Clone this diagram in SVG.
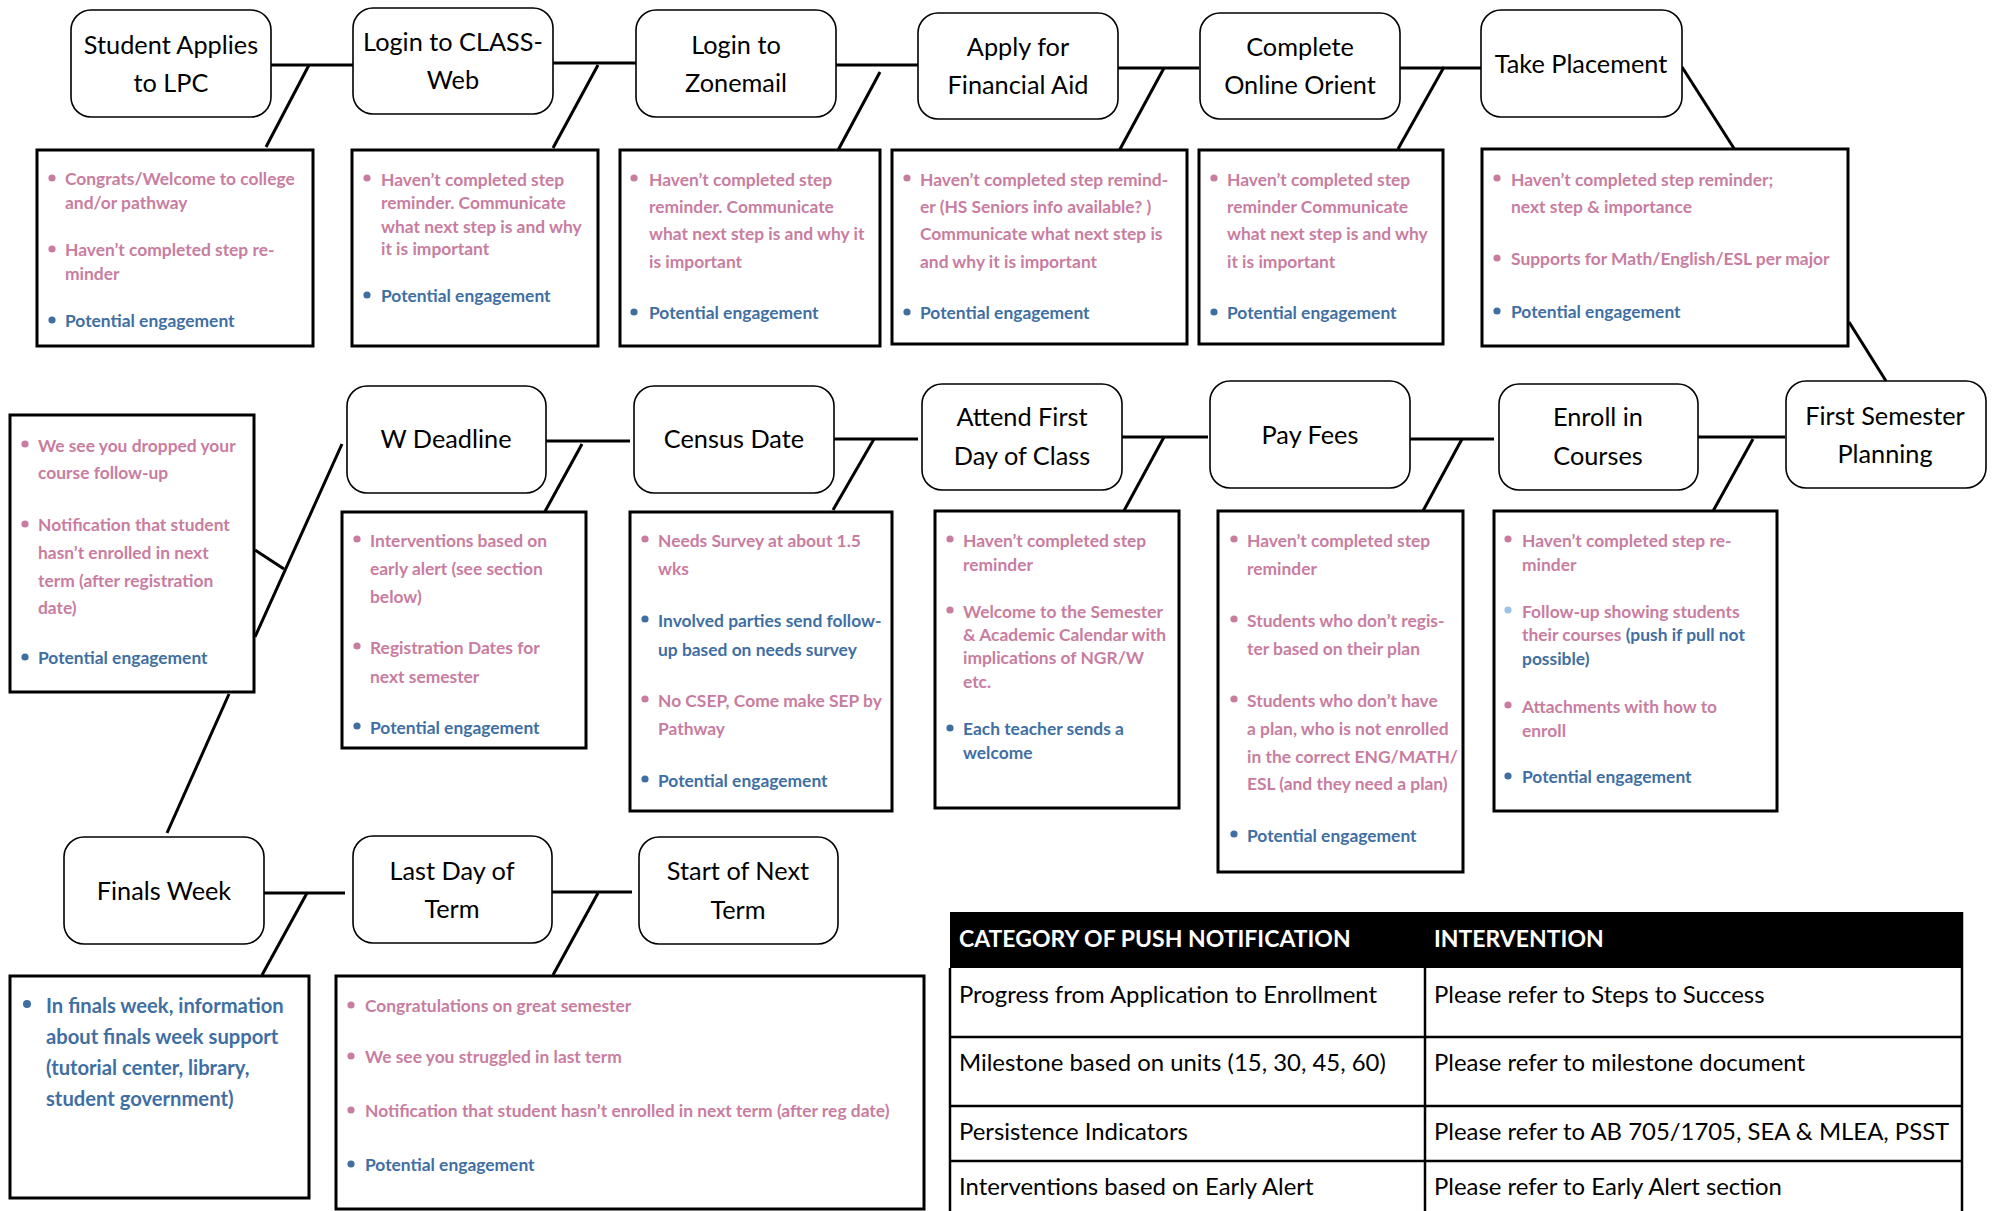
<svg xmlns="http://www.w3.org/2000/svg" width="1992" height="1211" viewBox="0 0 1992 1211">
<style>
.nd{fill:#fff;stroke:#000;stroke-width:1.6}
.nt{font-family:Lato,"Liberation Sans",sans-serif;font-size:25.3px;fill:#000;text-anchor:middle}
.bx{fill:#fff;stroke:#000;stroke-width:3}
.p{font-family:Lato,"Liberation Sans",sans-serif;font-size:17.4px;font-weight:bold;fill:#C87DA0}
.b{font-family:Lato,"Liberation Sans",sans-serif;font-size:17.4px;font-weight:bold;fill:#3F6FA2}
.dp{fill:#C87DA0}
.db{fill:#3F6FA2}
.dl{fill:#9CC3E6}
.cn line{stroke:#000;stroke-width:3}
.th{font-family:Lato,"Liberation Sans",sans-serif;font-size:23px;font-weight:bold;fill:#fff}
.td{font-family:Lato,"Liberation Sans",sans-serif;font-size:23.9px;fill:#000}
.tl{stroke:#000;stroke-width:2.5}
</style>
<rect width="1992" height="1211" fill="#fff"/>

<g id="connectors" class="cn">
<line x1="271" y1="65" x2="353" y2="65"/><line x1="309" y1="65" x2="266" y2="147"/>
<line x1="553" y1="63" x2="636" y2="63"/><line x1="598" y1="65" x2="553" y2="148"/>
<line x1="836" y1="65" x2="918" y2="65"/><line x1="880" y1="72" x2="836" y2="154"/>
<line x1="1117" y1="68" x2="1199" y2="68"/><line x1="1164" y1="68" x2="1119" y2="151"/>
<line x1="1400" y1="68" x2="1482" y2="68"/><line x1="1444" y1="67" x2="1398" y2="149"/>
<line x1="1682" y1="67" x2="1735" y2="150"/>
<line x1="1849" y1="322" x2="1886" y2="381"/>
<line x1="1698" y1="437" x2="1785" y2="437"/><line x1="1753" y1="439" x2="1707" y2="522"/>
<line x1="1410" y1="439" x2="1494" y2="439"/><line x1="1462" y1="439" x2="1417" y2="522"/>
<line x1="1122" y1="437" x2="1208" y2="437"/><line x1="1164" y1="437" x2="1119" y2="520"/>
<line x1="834" y1="439" x2="918" y2="439"/><line x1="874" y1="439" x2="833" y2="510"/>
<line x1="546" y1="441" x2="630" y2="441"/><line x1="582" y1="444" x2="537" y2="526"/>
<line x1="342" y1="444" x2="255" y2="637"/><line x1="255" y1="550" x2="284" y2="569"/>
<line x1="229" y1="694" x2="167" y2="833"/>
<line x1="264" y1="893" x2="345" y2="893"/><line x1="307" y1="893" x2="262" y2="975"/>
<line x1="550" y1="892" x2="632" y2="892"/><line x1="598" y1="893" x2="553" y2="975"/>
</g>

<!-- Row 1 nodes -->
<g id="n-student-applies"><rect class="nd" x="71" y="10" width="200" height="107" rx="20"/><text class="nt" x="171" y="54">Student Applies</text><text class="nt" x="171" y="92">to LPC</text></g>
<g id="n-login-class"><rect class="nd" x="353" y="8" width="200" height="106" rx="20"/><text class="nt" x="453" y="51">Login to CLASS-</text><text class="nt" x="453" y="89">Web</text></g>
<g id="n-login-zonemail"><rect class="nd" x="636" y="10" width="200" height="107" rx="20"/><text class="nt" x="736" y="54">Login to</text><text class="nt" x="736" y="92">Zonemail</text></g>
<g id="n-financial-aid"><rect class="nd" x="918" y="13" width="200" height="106" rx="20"/><text class="nt" x="1018" y="56">Apply for</text><text class="nt" x="1018" y="94">Financial Aid</text></g>
<g id="n-online-orient"><rect class="nd" x="1200" y="13" width="200" height="106" rx="20"/><text class="nt" x="1300" y="56">Complete</text><text class="nt" x="1300" y="94">Online Orient</text></g>
<g id="n-take-placement"><rect class="nd" x="1481" y="10" width="201" height="107" rx="20"/><text class="nt" x="1581" y="73">Take Placement</text></g>

<!-- Row 1 boxes -->
<g id="b-student-applies"><rect class="bx" x="37" y="150" width="276" height="196"/>
<circle class="dp" cx="52" cy="178" r="3.6"/><text class="p" x="65" y="185">Congrats/Welcome to college</text><text class="p" x="65" y="209">and/or pathway</text>
<circle class="dp" cx="52" cy="249" r="3.6"/><text class="p" x="65" y="256">Haven’t completed step re-</text><text class="p" x="65" y="280">minder</text>
<circle class="db" cx="52" cy="320" r="3.6"/><text class="b" x="65" y="327">Potential engagement</text></g>

<g id="b-login-class"><rect class="bx" x="352" y="150" width="246" height="196"/>
<circle class="dp" cx="367" cy="178" r="3.6"/><text class="p" x="381" y="186">Haven’t completed step</text><text class="p" x="381" y="209">reminder.  Communicate</text><text class="p" x="381" y="233">what next step is and why</text><text class="p" x="381" y="255">it is important</text>
<circle class="db" cx="367" cy="295" r="3.6"/><text class="b" x="381" y="302">Potential engagement</text></g>

<g id="b-login-zonemail"><rect class="bx" x="620" y="150" width="260" height="196"/>
<circle class="dp" cx="634" cy="178" r="3.6"/><text class="p" x="649" y="186">Haven’t completed step</text><text class="p" x="649" y="213">reminder. Communicate</text><text class="p" x="649" y="240">what next step is and why it</text><text class="p" x="649" y="268">is important</text>
<circle class="db" cx="634" cy="312" r="3.6"/><text class="b" x="649" y="319">Potential engagement</text></g>

<g id="b-financial-aid"><rect class="bx" x="892" y="150" width="295" height="194"/>
<circle class="dp" cx="907" cy="178" r="3.6"/><text class="p" x="920" y="186">Haven’t completed step remind-</text><text class="p" x="920" y="213">er (HS Seniors info available? )</text><text class="p" x="920" y="240">Communicate what next step is</text><text class="p" x="920" y="268">and why it is important</text>
<circle class="db" cx="907" cy="312" r="3.6"/><text class="b" x="920" y="319">Potential engagement</text></g>

<g id="b-online-orient"><rect class="bx" x="1199" y="150" width="244" height="194"/>
<circle class="dp" cx="1214" cy="178" r="3.6"/><text class="p" x="1227" y="186">Haven’t completed step</text><text class="p" x="1227" y="213">reminder Communicate</text><text class="p" x="1227" y="240">what next step is and why</text><text class="p" x="1227" y="268">it is important</text>
<circle class="db" cx="1214" cy="312" r="3.6"/><text class="b" x="1227" y="319">Potential engagement</text></g>

<g id="b-take-placement"><rect class="bx" x="1482" y="149" width="366" height="197"/>
<circle class="dp" cx="1497" cy="178" r="3.6"/><text class="p" x="1511" y="186">Haven’t completed step reminder;</text><text class="p" x="1511" y="213">next step &amp; importance</text>
<circle class="dp" cx="1497" cy="258" r="3.6"/><text class="p" x="1511" y="265">Supports for Math/English/ESL per major</text>
<circle class="db" cx="1497" cy="311" r="3.6"/><text class="b" x="1511" y="318">Potential engagement</text></g>

<!-- Row 2 nodes -->
<g id="n-w-deadline"><rect class="nd" x="347" y="386" width="199" height="107" rx="20"/><text class="nt" x="446" y="448">W Deadline</text></g>
<g id="n-census-date"><rect class="nd" x="634" y="386" width="200" height="107" rx="20"/><text class="nt" x="734" y="448">Census Date</text></g>
<g id="n-attend-first-day"><rect class="nd" x="922" y="384" width="200" height="106" rx="20"/><text class="nt" x="1022" y="426">Attend First</text><text class="nt" x="1022" y="465">Day of Class</text></g>
<g id="n-pay-fees"><rect class="nd" x="1210" y="381" width="200" height="107" rx="20"/><text class="nt" x="1310" y="444">Pay Fees</text></g>
<g id="n-enroll-courses"><rect class="nd" x="1499" y="384" width="199" height="106" rx="20"/><text class="nt" x="1598" y="426">Enroll in</text><text class="nt" x="1598" y="465">Courses</text></g>
<g id="n-first-semester"><rect class="nd" x="1786" y="381" width="200" height="107" rx="20"/><text class="nt" x="1885" y="425">First Semester</text><text class="nt" x="1885" y="463">Planning</text></g>

<!-- Row 2 boxes -->
<g id="b-dropped"><rect class="bx" x="10" y="415" width="244" height="277"/>
<circle class="dp" cx="25" cy="444" r="3.6"/><text class="p" x="38" y="452">We see you dropped your</text><text class="p" x="38" y="479">course follow-up</text>
<circle class="dp" cx="25" cy="524" r="3.6"/><text class="p" x="38" y="531">Notification that student</text><text class="p" x="38" y="559">hasn’t enrolled in next</text><text class="p" x="38" y="587">term (after registration</text><text class="p" x="38" y="614">date)</text>
<circle class="db" cx="25" cy="657" r="3.6"/><text class="b" x="38" y="664">Potential engagement</text></g>

<g id="b-w-deadline"><rect class="bx" x="342" y="512" width="244" height="236"/>
<circle class="dp" cx="357" cy="539" r="3.6"/><text class="p" x="370" y="547">Interventions based on</text><text class="p" x="370" y="575">early alert (see section</text><text class="p" x="370" y="603">below)</text>
<circle class="dp" cx="357" cy="646" r="3.6"/><text class="p" x="370" y="654">Registration Dates for</text><text class="p" x="370" y="683">next semester</text>
<circle class="db" cx="357" cy="726" r="3.6"/><text class="b" x="370" y="734">Potential engagement</text></g>

<g id="b-census"><rect class="bx" x="630" y="512" width="262" height="299"/>
<circle class="dp" cx="645" cy="539" r="3.6"/><text class="p" x="658" y="547">Needs Survey  at about 1.5</text><text class="p" x="658" y="575">wks</text>
<circle class="db" cx="645" cy="619" r="3.6"/><text class="b" x="658" y="627">Involved parties send follow-</text><text class="b" x="658" y="656">up based on needs survey</text>
<circle class="dp" cx="645" cy="699" r="3.6"/><text class="p" x="658" y="707">No CSEP, Come make SEP by</text><text class="p" x="658" y="735">Pathway</text>
<circle class="db" cx="645" cy="779" r="3.6"/><text class="b" x="658" y="787">Potential engagement</text></g>

<g id="b-attend"><rect class="bx" x="935" y="511" width="244" height="297"/>
<circle class="dp" cx="950" cy="539" r="3.6"/><text class="p" x="963" y="547">Haven’t completed step</text><text class="p" x="963" y="571">reminder</text>
<circle class="dp" cx="950" cy="610" r="3.6"/><text class="p" x="963" y="618">Welcome to the Semester</text><text class="p" x="963" y="641">&amp; Academic Calendar with</text><text class="p" x="963" y="664">implications of NGR/W</text><text class="p" x="963" y="688">etc.</text>
<circle class="db" cx="950" cy="728" r="3.6"/><text class="b" x="963" y="735">Each teacher sends a</text><text class="b" x="963" y="759">welcome</text></g>

<g id="b-pay-fees"><rect class="bx" x="1218" y="511" width="245" height="361"/>
<circle class="dp" cx="1234" cy="539" r="3.6"/><text class="p" x="1247" y="547">Haven’t completed step</text><text class="p" x="1247" y="575">reminder</text>
<circle class="dp" cx="1234" cy="619" r="3.6"/><text class="p" x="1247" y="627">Students who don’t regis-</text><text class="p" x="1247" y="655">ter based on their plan</text>
<circle class="dp" cx="1234" cy="699" r="3.6"/><text class="p" x="1247" y="707">Students who don’t have</text><text class="p" x="1247" y="735">a plan, who is not enrolled</text><text class="p" x="1247" y="763">in the correct ENG/MATH/</text><text class="p" x="1247" y="790">ESL (and they need a plan)</text>
<circle class="db" cx="1234" cy="834" r="3.6"/><text class="b" x="1247" y="842">Potential engagement</text></g>

<g id="b-enroll"><rect class="bx" x="1494" y="511" width="283" height="300"/>
<circle class="dp" cx="1508" cy="539" r="3.6"/><text class="p" x="1522" y="547">Haven’t completed step re-</text><text class="p" x="1522" y="571">minder</text>
<circle class="dl" cx="1508" cy="610" r="3.6"/><text class="p" x="1522" y="618">Follow-up showing students</text><text class="p" x="1522" y="641">their courses <tspan class="b">(push if pull not</tspan></text><text class="b" x="1522" y="665">possible)</text>
<circle class="dp" cx="1508" cy="705" r="3.6"/><text class="p" x="1522" y="713">Attachments with how to</text><text class="p" x="1522" y="737">enroll</text>
<circle class="db" cx="1508" cy="776" r="3.6"/><text class="b" x="1522" y="783">Potential engagement</text></g>

<!-- Row 3 nodes -->
<g id="n-finals-week"><rect class="nd" x="64" y="837" width="200" height="107" rx="20"/><text class="nt" x="164" y="900">Finals Week</text></g>
<g id="n-last-day"><rect class="nd" x="353" y="836" width="199" height="107" rx="20"/><text class="nt" x="452" y="880">Last Day of</text><text class="nt" x="452" y="918">Term</text></g>
<g id="n-start-next"><rect class="nd" x="639" y="837" width="199" height="107" rx="20"/><text class="nt" x="738" y="880">Start of Next</text><text class="nt" x="738" y="919">Term</text></g>

<!-- Row 3 boxes -->
<g id="b-finals"><rect class="bx" x="10" y="976" width="299" height="222"/>
<circle class="db" cx="27" cy="1004" r="4"/><text class="b" style="font-size:20.2px" x="46" y="1013">In finals week, information</text><text class="b" style="font-size:20.2px" x="46" y="1044">about finals week support</text><text class="b" style="font-size:20.2px" x="46" y="1075">(tutorial center, library,</text><text class="b" style="font-size:20.2px" x="46" y="1106">student government)</text></g>

<g id="b-last-day"><rect class="bx" x="336" y="976" width="588" height="233"/>
<circle class="dp" cx="351" cy="1005" r="3.6"/><text class="p" x="365" y="1012">Congratulations on great semester</text>
<circle class="dp" cx="351" cy="1056" r="3.6"/><text class="p" x="365" y="1063">We see you struggled in last term</text>
<circle class="dp" cx="351" cy="1110" r="3.6"/><text class="p" x="365" y="1117">Notification that student hasn’t enrolled in next term (after reg date)</text>
<circle class="db" cx="351" cy="1164" r="3.6"/><text class="b" x="365" y="1171">Potential engagement</text></g>

<!-- Table -->
<g id="legend-table">
<rect x="950" y="912" width="1012" height="56" fill="#000"/>
<text class="th" x="959" y="947">CATEGORY OF PUSH NOTIFICATION</text>
<text class="th" x="1434" y="947">INTERVENTION</text>
<line class="tl" x1="950" y1="968" x2="950" y2="1211"/>
<line class="tl" x1="1425" y1="968" x2="1425" y2="1211"/>
<line class="tl" x1="1962" y1="912" x2="1962" y2="1211"/>
<line class="tl" x1="950" y1="1037" x2="1962" y2="1037"/>
<line class="tl" x1="950" y1="1106" x2="1962" y2="1106"/>
<line class="tl" x1="950" y1="1161" x2="1962" y2="1161"/>
<text class="td" x="959" y="1003">Progress from Application to Enrollment</text>
<text class="td" x="1434" y="1003">Please refer to Steps to Success</text>
<text class="td" x="959" y="1071">Milestone based on units (15, 30, 45, 60)</text>
<text class="td" x="1434" y="1071">Please refer to milestone document</text>
<text class="td" x="959" y="1140">Persistence Indicators</text>
<text class="td" x="1434" y="1140">Please refer to AB 705/1705, SEA &amp; MLEA, PSST</text>
<text class="td" x="959" y="1195">Interventions based on Early Alert</text>
<text class="td" x="1434" y="1195">Please refer to Early Alert section</text>
</g>
</svg>
